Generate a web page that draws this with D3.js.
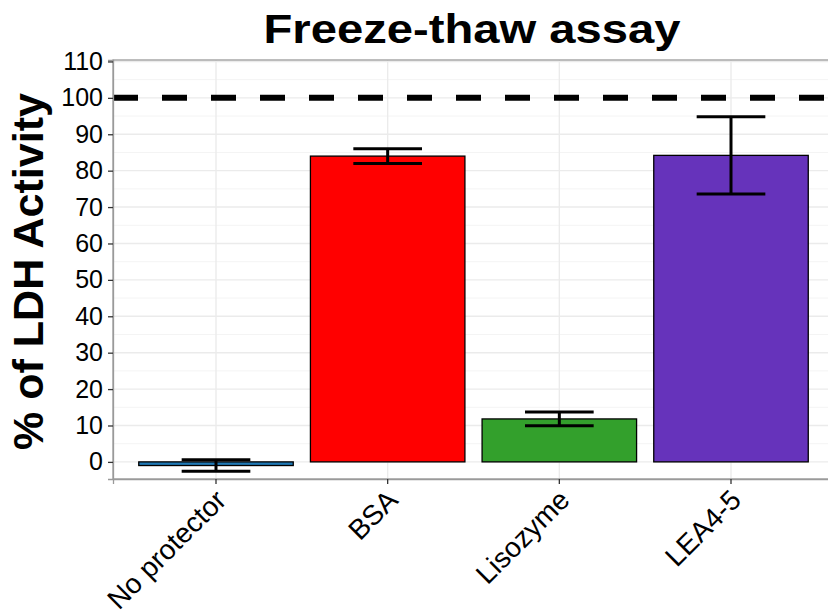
<!DOCTYPE html>
<html>
<head>
<meta charset="utf-8">
<script src="https://cdn.jsdelivr.net/npm/d3@7"></script>
<style>
  body { margin: 0; background: #fff; }
  svg { display: block; font-family: "Liberation Sans", Arial, sans-serif; }
</style>
</head>
<body>
<svg id="chart" width="828" height="615"></svg>
<script>
// Freeze-thaw assay: LDH activity retained after freeze-thaw with different protectors
const categories = ["No protector", "BSA", "Lisozyme", "LEA4-5"];
const means = [-1.0, 84.0, 11.8, 84.2];
const errors = [1.6, 2.0, 1.9, 10.6];
const colors = ["#1F78B4", "#FF0000", "#33A02C", "#6633BB"];
const yTicks = [0, 10, 20, 30, 40, 50, 60, 70, 80, 90, 100, 110];
const reference = 100;

const svg = d3.select("#chart");
const margin = { left: 113, right: -6, top: 60, bottom: 136 };
const W = 828, H = 615;
const x0 = margin.left, x1 = W - margin.right;
const y0 = H - margin.bottom, y1 = margin.top;

const x = d3.scaleBand().domain(categories).range([x0, x1]).paddingOuter(0.15).paddingInner(0.1);
const y = d3.scaleLinear().domain([-4.7, 110.4]).range([y0, y1]);
const step = x.step();

const g = svg.append("g");

// minor grid
const minor = d3.range(5, 110, 10);
g.selectAll(".minor").data(minor).join("line")
  .attr("x1", x0).attr("x2", x1)
  .attr("y1", d => y(d)).attr("y2", d => y(d))
  .attr("stroke", "#F4F4F4").attr("stroke-width", 1);
// major grid
g.selectAll(".major").data(yTicks).join("line")
  .attr("x1", x0).attr("x2", x1)
  .attr("y1", d => y(d)).attr("y2", d => y(d))
  .attr("stroke", "#EBEBEB").attr("stroke-width", 1.4);
g.selectAll(".vgrid").data(categories).join("line")
  .attr("x1", d => x(d) + x.bandwidth() / 2).attr("x2", d => x(d) + x.bandwidth() / 2)
  .attr("y1", y0).attr("y2", y1)
  .attr("stroke", "#EBEBEB").attr("stroke-width", 1.4);

// bars
g.selectAll(".bar").data(categories).join("rect")
  .attr("x", d => x(d))
  .attr("width", x.bandwidth())
  .attr("y", (d, i) => y(Math.max(0, means[i])))
  .attr("height", (d, i) => Math.abs(y(means[i]) - y(0)))
  .attr("fill", (d, i) => colors[i])
  .attr("stroke", "#000").attr("stroke-width", 1.3);

// error bars
const whisker = step * 0.2;
categories.forEach((c, i) => {
  const cx = x(c) + x.bandwidth() / 2;
  const hi = y(means[i] + errors[i]), lo = y(means[i] - errors[i]);
  const eg = g.append("g").attr("stroke", "#000").attr("stroke-width", 3);
  eg.append("line").attr("x1", cx).attr("x2", cx).attr("y1", hi).attr("y2", lo);
  eg.append("line").attr("x1", cx - whisker).attr("x2", cx + whisker).attr("y1", hi).attr("y2", hi);
  eg.append("line").attr("x1", cx - whisker).attr("x2", cx + whisker).attr("y1", lo).attr("y2", lo);
});

// reference line
g.append("line")
  .attr("x1", x0).attr("x2", x1)
  .attr("y1", y(reference)).attr("y2", y(reference))
  .attr("stroke", "#000").attr("stroke-width", 6)
  .attr("stroke-dasharray", "25,24");

// panel border
g.append("rect")
  .attr("x", x0).attr("y", y1).attr("width", x1 - x0).attr("height", y0 - y1)
  .attr("fill", "none").attr("stroke", "#9A9A9A").attr("stroke-width", 1.3);

// axes
const yAxis = svg.append("g").attr("transform", `translate(${x0},0)`)
  .call(d3.axisLeft(y).tickValues(yTicks).tickSize(5).tickPadding(5));
const xAxis = svg.append("g").attr("transform", `translate(0,${y0})`)
  .call(d3.axisBottom(x).tickSize(5).tickPadding(6));
[yAxis, xAxis].forEach(a => {
  a.select(".domain").attr("stroke", "#9A9A9A").attr("stroke-width", 1.3);
  a.selectAll(".tick line").attr("stroke", "#333").attr("stroke-width", 1.3);
  a.selectAll("text").attr("fill", "#000")
    .style("font-family", "'Liberation Sans', Arial, sans-serif");
});
yAxis.selectAll("text").style("font-size", "25px");
xAxis.selectAll("text")
  .style("font-size", "28px")
  .attr("text-anchor", "end")
  .attr("x", 0).attr("y", 0)
  .attr("dy", "0.75em")
  .attr("transform", "translate(-3,8) rotate(-45)");

// titles
svg.append("text")
  .attr("transform", "translate(472,43) scale(1.18,1)")
  .attr("text-anchor", "middle")
  .style("font-size", "40px").style("font-weight", "bold")
  .text("Freeze-thaw assay");
svg.append("text")
  .attr("transform", `translate(43,${(y0 + y1) / 2 + 2}) rotate(-90)`)
  .attr("text-anchor", "middle")
  .style("font-size", "43px").style("font-weight", "bold")
  .text("% of LDH Activity");
</script>
</body>
</html>
